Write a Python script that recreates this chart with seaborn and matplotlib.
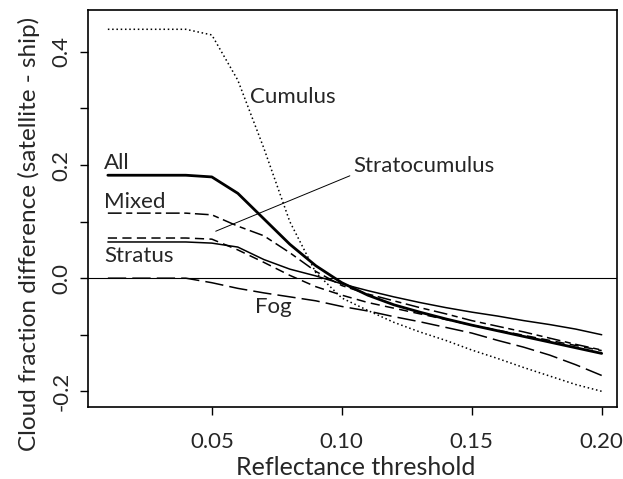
import numpy as np
import pandas as pd
import seaborn as sns
import matplotlib.pyplot as plt

# reflectance thresholds
threshold = [0.01, 0.02, 0.03, 0.04, 0.05, 0.06, 0.07, 0.08, 0.09, 0.10,
             0.11, 0.12, 0.13, 0.14, 0.15, 0.16, 0.17, 0.18, 0.19, 0.20]

# cloud fraction difference (satellite - ship) per cloud type
cumulus = [0.44, 0.44, 0.44, 0.44, 0.43, 0.35, 0.23, 0.10, 0.01, -0.035,
           -0.057, -0.078, -0.095, -0.11, -0.127, -0.142, -0.158, -0.173, -0.188, -0.20]
all_types = [0.182, 0.182, 0.182, 0.182, 0.179, 0.15, 0.105, 0.06, 0.022, -0.008,
             -0.03, -0.047, -0.06, -0.072, -0.083, -0.093, -0.103, -0.113, -0.123, -0.133]
mixed = [0.115, 0.115, 0.115, 0.115, 0.112, 0.092, 0.075, 0.045, 0.012, -0.013,
         -0.028, -0.04, -0.052, -0.063, -0.075, -0.085, -0.095, -0.106, -0.117, -0.127]
stratocumulus = [0.071, 0.071, 0.071, 0.071, 0.069, 0.05, 0.028, 0.005, -0.015, -0.03,
                 -0.043, -0.053, -0.063, -0.073, -0.083, -0.092, -0.101, -0.11, -0.119, -0.128]
stratus = [0.064, 0.064, 0.064, 0.064, 0.062, 0.055, 0.033, 0.016, 0.004, -0.01,
           -0.022, -0.033, -0.043, -0.052, -0.06, -0.067, -0.075, -0.082, -0.09, -0.10]
fog = [0.0, 0.0, 0.0, 0.0, -0.008, -0.018, -0.026, -0.033, -0.04, -0.05,
       -0.058, -0.068, -0.077, -0.087, -0.097, -0.11, -0.122, -0.136, -0.153, -0.172]

sns.set_style("ticks")
plt.rcParams['font.family'] = ['Lato', 'DejaVu Sans']

fig = plt.figure(figsize=(6.23, 4.79), dpi=100)
ax = fig.add_axes([0.141, 0.150, 0.849, 0.829])

ax.axhline(0, color="black", lw=0.8)

series = [
    (cumulus, (0, (1.0, 1.8)), 1.1),
    (all_types, "-", 2.0),
    (mixed, (0, (9, 3, 4, 3)), 1.1),
    (stratocumulus, (0, (6, 3.5)), 1.1),
    (stratus, "-", 1.1),
    (fog, (0, (12, 4)), 1.1),
]
for values, ls, lw in series:
    sns.lineplot(x=threshold, y=values, ax=ax, color="black", linestyle=ls, lw=lw)

ax.set_xlim(0.0023, 0.2058)
ax.set_ylim(-0.228, 0.474)
ax.set_xticks([0.05, 0.10, 0.15, 0.20])
ax.set_xticklabels(["0.05", "0.10", "0.15", "0.20"])
ax.set_yticks([-0.2, 0.0, 0.2, 0.4])
ax.set_yticklabels(["-0.2", "0.0", "0.2", "0.4"], rotation=90, va="center")
ax.set_yticks([-0.1, 0.1, 0.3], minor=True)
ax.tick_params(axis="both", which="both", length=6, width=1, direction="out",
               labelsize=16, color="black")
ax.tick_params(axis="x", pad=12)
ax.tick_params(axis="y", pad=6)
for sp in ax.spines.values():
    sp.set_linewidth(1.2)
    sp.set_color("black")

ax.set_xlabel("Reflectance threshold", fontsize=18)
ax.set_ylabel("Cloud fraction difference (satellite - ship)", fontsize=17.5)
ax.xaxis.set_label_coords(0.507, -0.122)
ax.yaxis.set_label_coords(-0.09, 0.436)

lab = dict(fontsize=16, va="center", ha="left")
ax.text(0.0646, 0.32, "Cumulus", **lab)
ax.text(0.0085, 0.204, "All", **lab)
ax.text(0.0085, 0.135, "Mixed", **lab)
ax.text(0.0085, 0.039, "Stratus", **lab)
ax.text(0.0665, -0.051, "Fog", **lab)
ax.text(0.1046, 0.198, "Stratocumulus", **lab)
ax.plot([0.0515, 0.1031], [0.083, 0.181], color="black", lw=0.7)

fig.savefig("out.png", dpi=100)
